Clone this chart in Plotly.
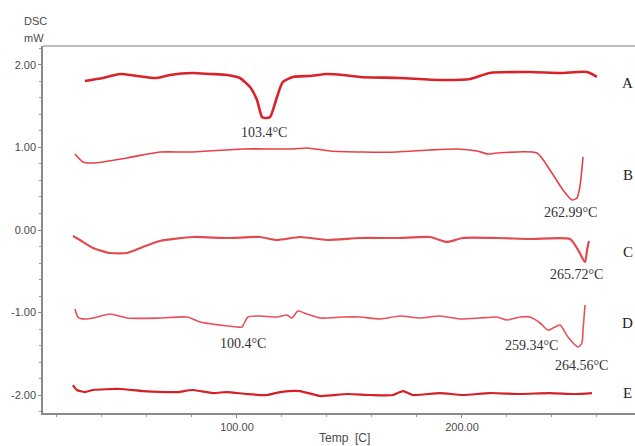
import plotly.graph_objects as go

# ---- data (temperature in C, heat flow in mW) ----
a_temp = [32.4, 40.4, 48, 55.6, 64.4, 70.2, 80.4, 88, 95.6, 101.3, 105.8, 108.9, 111.1, 112.4, 114.7,
          117.8, 120.4, 124.9, 132.4, 140, 147.1, 154.7, 172.4, 190.2, 203.6, 212.4, 230.2, 243.6, 255.6, 260]
a_val = [1.806, 1.842, 1.891, 1.867, 1.842, 1.879, 1.903, 1.891, 1.879, 1.842, 1.733, 1.576, 1.370, 1.358, 1.370,
         1.612, 1.794, 1.855, 1.867, 1.891, 1.879, 1.855, 1.842, 1.818, 1.830, 1.903, 1.915, 1.903, 1.915, 1.855]

b_temp = [28, 31.6, 36, 51.1, 65.8, 80.4, 102.7, 124.9, 131.1, 141.3, 156, 171.1, 185.8, 197.8, 206.7,
          211.6, 215.6, 233.3, 239.1, 244.9, 248.9, 251.1, 252.4, 253.8]
b_val = [0.921, 0.824, 0.812, 0.873, 0.945, 0.945, 0.982, 0.982, 0.994, 0.958, 0.945, 0.945, 0.970, 0.982, 0.958,
         0.921, 0.933, 0.933, 0.727, 0.485, 0.364, 0.388, 0.521, 0.885]

c_temp = [27.1, 30.2, 36, 43.6, 51.1, 58.2, 65.8, 80.4, 95.6, 110.2, 117.8, 128, 140, 154.7, 171.1, 185.8,
          193.3, 200.4, 215.6, 230.2, 248, 251.6, 254.7, 255.6, 256.4]
c_val = [-0.073, -0.121, -0.218, -0.279, -0.279, -0.206, -0.133, -0.085, -0.097, -0.085, -0.121, -0.085, -0.121,
         -0.097, -0.097, -0.085, -0.145, -0.097, -0.097, -0.109, -0.109, -0.242, -0.388, -0.242, -0.133]

d_temp = [28, 29.3, 32.4, 36, 43.6, 51.1, 65.8, 77.8, 83.6, 92.4, 100, 102.2, 104.9, 110.2, 117.8, 122.2,
          124.4, 127.1, 131.1, 136.9, 147.1, 154.7, 163.6, 172.4, 181.3, 190.2, 199.1, 208, 215.6, 220,
          225.8, 230.2, 234.7, 238.2, 241.3, 243.6, 247.1, 251.6, 253.3, 253.8, 254.7]
d_val = [-0.958, -1.055, -1.079, -1.067, -1.018, -1.067, -1.067, -1.055, -1.115, -1.152, -1.176, -1.176, -1.055,
         -1.042, -1.055, -1.030, -1.067, -0.982, -1.018, -1.067, -1.055, -1.055, -1.079, -1.042, -1.067, -1.042,
         -1.079, -1.067, -1.055, -1.091, -1.055, -1.055, -1.127, -1.212, -1.176, -1.152, -1.297, -1.418, -1.370,
         -1.212, -0.909]

e_temp = [27.1, 28.9, 32.4, 36, 48, 58.2, 73.3, 80.4, 89.3, 95.6, 104.4, 113.3, 119.1, 128, 136.9, 148.9,
          159.1, 169.3, 173.8, 178.2, 190.2, 200.4, 212.4, 225.8, 239.1, 250.2, 257.8]
e_val = [-1.879, -1.939, -1.964, -1.939, -1.927, -1.952, -1.964, -1.939, -1.976, -1.964, -1.988, -2.0, -1.964,
         -1.952, -2.012, -1.988, -2.0, -2.0, -1.952, -2.0, -1.976, -2.0, -1.976, -1.988, -1.976, -1.988, -1.976]

y_ticks = [-2, -1, 0, 1, 2]
y_tick_text = ["-2.00", "-1.00", "0.00", "1.00", "2.00"]
x_ticks = [100, 200]
x_tick_text = ["100.00", "200.00"]

peak_labels = ["103.4°C", "262.99°C", "265.72°C", "100.4°C", "259.34°C", "264.56°C"]
peak_x = [112, 248.4, 250.7, 102.7, 231.1, 253.3]
peak_y = [1.176, 0.218, -0.545, -1.370, -1.394, -1.648]

curve_names = ["A", "B", "C", "D", "E"]
name_y = [1.782, 0.667, -0.267, -1.127, -1.976]

series = [
    (a_temp, a_val, "#d8232a", 2.6),
    (b_temp, b_val, "#e8404a", 1.6),
    (c_temp, c_val, "#e24a50", 2.2),
    (d_temp, d_val, "#e8505a", 1.6),
    (e_temp, e_val, "#d42026", 2.2),
]

fig = go.Figure()
for (t, v, col, w), nm in zip(series, curve_names):
    fig.add_trace(go.Scatter(x=t, y=v, mode="lines", name=nm,
                             line=dict(color=col, width=w, shape="spline", smoothing=0.6),
                             showlegend=False))

serif = "Liberation Serif, Times New Roman, serif"
sans = "Liberation Sans, Arial, sans-serif"

for txt, px, py in zip(peak_labels, peak_x, peak_y):
    fig.add_annotation(x=px, y=py, text=txt, showarrow=False,
                       font=dict(family=serif, size=14, color="#333333"))

for nm, py in zip(curve_names, name_y):
    fig.add_annotation(x=273.6, y=py, text=nm, showarrow=False,
                       font=dict(family=serif, size=15, color="#222222"))

fig.add_annotation(xref="paper", yref="paper", x=-0.0355, y=1.068, text="DSC",
                   showarrow=False, xanchor="left", yanchor="middle",
                   font=dict(family=sans, size=11, color="#4a4a4a"))
fig.add_annotation(xref="paper", yref="paper", x=-0.0355, y=1.022, text="mW",
                   showarrow=False, xanchor="left", yanchor="middle",
                   font=dict(family=sans, size=11, color="#4a4a4a"))
fig.add_annotation(xref="paper", yref="paper", x=0.51, y=-0.068, text="Temp  [C]",
                   showarrow=False, yanchor="middle",
                   font=dict(family=sans, size=12, color="#4a4a4a"))

fig.add_shape(type="line", xref="paper", yref="paper", x0=0, x1=1, y0=1, y1=1,
              line=dict(color="#a8a8a8", width=1.5))

fig.update_layout(
    width=635, height=446,
    margin=dict(l=43, r=0, t=46, b=33),
    paper_bgcolor="white", plot_bgcolor="white",
    xaxis=dict(range=[13.8, 276.9], tickvals=x_ticks, ticktext=x_tick_text, automargin=False,
               showgrid=False, zeroline=False, showline=True, linecolor="#8a8a8a", linewidth=1.5,
               ticks="outside", ticklen=3, tickcolor="#8a8a8a",
               minor=dict(dtick=20, tick0=0, ticks="outside", ticklen=2, tickcolor="#9a9a9a", showgrid=False),
               tickfont=dict(family=sans, size=11, color="#4a4a4a")),
    yaxis=dict(range=[-2.218, 2.23], tickvals=y_ticks, ticktext=y_tick_text, automargin=False,
               showgrid=False, zeroline=False, showline=True, linecolor="#8a8a8a", linewidth=1.5,
               ticks="outside", ticklen=3, tickcolor="#8a8a8a",
               minor=dict(dtick=0.2, tick0=0, ticks="outside", ticklen=2, tickcolor="#9a9a9a", showgrid=False),
               tickfont=dict(family=sans, size=11, color="#4a4a4a")),
)

fig.write_html("out.html", config={"displayModeBar": False},
               post_script="document.body.style.margin='0';document.body.style.overflow='hidden';")
